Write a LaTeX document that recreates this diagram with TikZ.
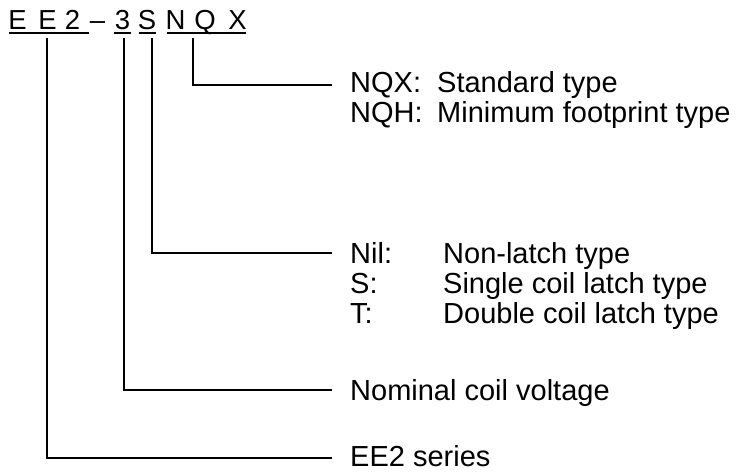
\documentclass[tikz,border=0pt]{standalone}
\usepackage{fontspec}
\setmainfont{Liberation Sans}
\begin{document}
\begin{tikzpicture}[x=1pt,y=-1pt,
  hd/.style={anchor=base,inner sep=0pt,font=\fontsize{27.5}{30}\selectfont},
  lbl/.style={anchor=base west,inner sep=0pt,font=\fontsize{29}{30}\selectfont},
  uline/.style={line width=1.7pt},
  conn/.style={line width=1.7pt}]
\useasboundingbox (0,0) rectangle (738,474);
% header characters
\node[hd] (h1) at (17.5,29) {E};
\node[hd] (h2) at (47.5,29) {E};
\node[hd] (h3) at (72.5,29) {2};
\node[hd] (h4) at (97.5,29) {–};
\node[hd] (h5) at (122.5,29) {3};
\node[hd] (h6) at (147,29) {S};
\node[hd] (h7) at (175.5,29) {N};
\node[hd] (h8) at (205,29) {Q};
\node[hd] (h9) at (237.5,29) {X};
% underlines
\draw[uline] (9,33) -- (89,33);
\draw[uline] (114,33) -- (131,33);
\draw[uline] (139,33) -- (156,33);
\draw[uline] (167,33) -- (246,33);
% labels
\node[lbl] (nqx-k) at (350,92) {NQX:};
\node[lbl] (nqx-v) at (437,92) {Standard type};
\node[lbl] (nqh-k) at (350,122) {NQH:};
\node[lbl] (nqh-v) at (437,122) {Minimum footprint type};
\node[lbl] (nil-k) at (350,263) {Nil:};
\node[lbl] (nil-v) at (443,263) {Non-latch type};
\node[lbl] (s-k) at (350,293) {S:};
\node[lbl] (s-v) at (443,293) {Single coil latch type};
\node[lbl] (t-k) at (350,323) {T:};
\node[lbl] (t-v) at (443,323) {Double coil latch type};
\node[lbl] (nom) at (350,400) {Nominal coil voltage};
\node[lbl] (ser) at (350,466) {EE2 series};
% connector coordinates
\coordinate (a-nqx) at (193,38);
\coordinate (b-nqx) at (332,85);
\coordinate (a-s) at (152,38);
\coordinate (b-s) at (332,253);
\coordinate (a-v) at (124,38);
\coordinate (b-v) at (332,390);
\coordinate (a-ee) at (47,38);
\coordinate (b-ee) at (332,458);
\draw[conn] (a-nqx) |- (b-nqx);
\draw[conn] (a-s) |- (b-s);
\draw[conn] (a-v) |- (b-v);
\draw[conn] (a-ee) |- (b-ee);
\end{tikzpicture}
\end{document}
